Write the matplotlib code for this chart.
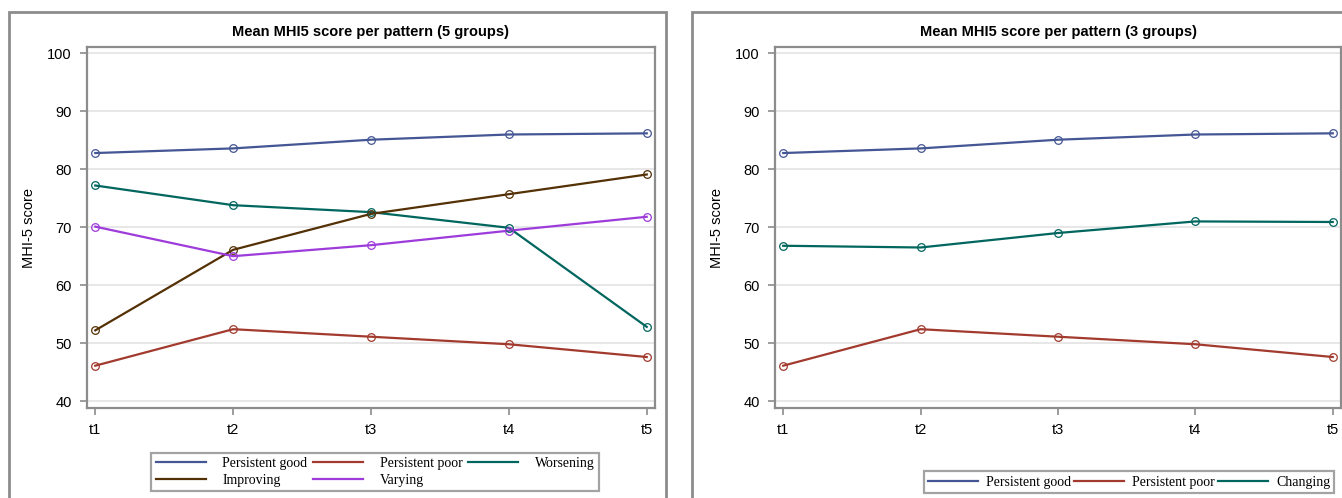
import matplotlib
matplotlib.use("Agg")
import matplotlib.pyplot as plt
from matplotlib.patches import Rectangle

W, H = 1342, 498

times = ["t1", "t2", "t3", "t4", "t5"]

# 5-group panel
good = [82.8, 83.6, 85.1, 86.0, 86.2]
poor = [46.1, 52.4, 51.1, 49.8, 47.6]
worsening = [77.2, 73.8, 72.6, 69.9, 52.8]
improving = [52.2, 66.1, 72.3, 75.7, 79.1]
varying = [70.1, 65.0, 66.9, 69.4, 71.8]

# 3-group panel
changing = [66.8, 66.5, 69.0, 71.0, 70.9]

yticks = [40, 50, 60, 70, 80, 90, 100]

C_GOOD = "#445694"
C_POOR = "#A23A2E"
C_WORSE = "#01665E"
C_IMPR = "#543005"
C_VARY = "#9D3CDB"

FRAME = "#8c8c8c"
SANS = "Liberation Sans"


def px_axes(fig, x0, y0, x1, y1):
    return fig.add_axes([x0 / W, 1 - y1 / H, (x1 - x0) / W, (y1 - y0) / H])


def style_axes(ax, title):
    ax.set_xlim(0.94, 5.06)
    ax.set_ylim(38.8, 101.1)
    ax.set_xticks(range(1, 6))
    ax.set_xticklabels(times, fontsize=10.5, family=SANS)
    ax.set_yticks(yticks)
    ax.set_yticklabels([str(v) for v in yticks], fontsize=10.5, family=SANS)
    ax.grid(axis="y", color="#e3e3e3", lw=1.2, zorder=0)
    ax.set_axisbelow(True)
    for s in ax.spines.values():
        s.set_color(FRAME)
        s.set_linewidth(1.6)
    ax.tick_params(color=FRAME, width=1.2, length=5, pad=6)
    ax.set_ylabel("MHI-5 score", fontsize=10.5, family=SANS, labelpad=8)
    ax.set_title(title, fontsize=10.5, fontweight="bold", family=SANS, pad=8)


def series(ax, y, color, label):
    x = list(range(1, len(y) + 1))
    ax.plot(x, y, color=color, lw=1.6, label=label, zorder=3)
    ax.plot(x, y, ls="none", marker="o", ms=5.5, mfc="none", mec=color,
            mew=0.9, zorder=4)


fig = plt.figure(figsize=(W / 100, H / 100), dpi=100)
fig.patch.set_facecolor("white")

# outer panel frames
fig.patches.append(Rectangle((9 / W, -0.02), (666 - 9) / W, 1 - 12 / H + 0.02,
                             transform=fig.transFigure, fill=False,
                             ec=FRAME, lw=2))
fig.patches.append(Rectangle((692 / W, -0.02), 1.0, 1 - 12 / H + 0.02,
                             transform=fig.transFigure, fill=False,
                             ec=FRAME, lw=2))

ax1 = px_axes(fig, 87, 47, 655, 408)
style_axes(ax1, "Mean MHI5 score per pattern (5 groups)")
series(ax1, good, C_GOOD, "Persistent good")
series(ax1, poor, C_POOR, "Persistent poor")
series(ax1, worsening, C_WORSE, "Worsening")
series(ax1, improving, C_IMPR, "Improving")
series(ax1, varying, C_VARY, "Varying")

ax2 = px_axes(fig, 775, 47, 1341, 408)
style_axes(ax2, "Mean MHI5 score per pattern (3 groups)")
series(ax2, good, C_GOOD, "Persistent good")
series(ax2, poor, C_POOR, "Persistent poor")
series(ax2, changing, C_WORSE, "Changing")

legend_font = {"family": "Liberation Serif", "size": 10}

# legend fills column by column: reorder so rows read like the reference
h1, l1 = ax1.get_legend_handles_labels()
order = [0, 3, 1, 4, 2]
leg1 = fig.legend([h1[i] for i in order], [l1[i] for i in order],
                  loc="center", ncol=3,
                  bbox_to_anchor=(375 / W, 1 - 472 / H),
                  prop=legend_font, handlelength=3.6, columnspacing=0.4,
                  handletextpad=1.2, labelspacing=0.3, borderpad=0.3,
                  fancybox=False, frameon=True)
leg1.get_frame().set_edgecolor(FRAME)
leg1.get_frame().set_linewidth(1.6)

h2, l2 = ax2.get_legend_handles_labels()
leg2 = fig.legend(h2, l2, loc="center", ncol=3,
                  bbox_to_anchor=(1129 / W, 1 - 482 / H),
                  prop=legend_font, handlelength=3.6, columnspacing=0.2,
                  handletextpad=0.6, borderpad=0.3,
                  fancybox=False, frameon=True)
leg2.get_frame().set_edgecolor(FRAME)
leg2.get_frame().set_linewidth(1.6)

fig.savefig("out.png", dpi=100)
